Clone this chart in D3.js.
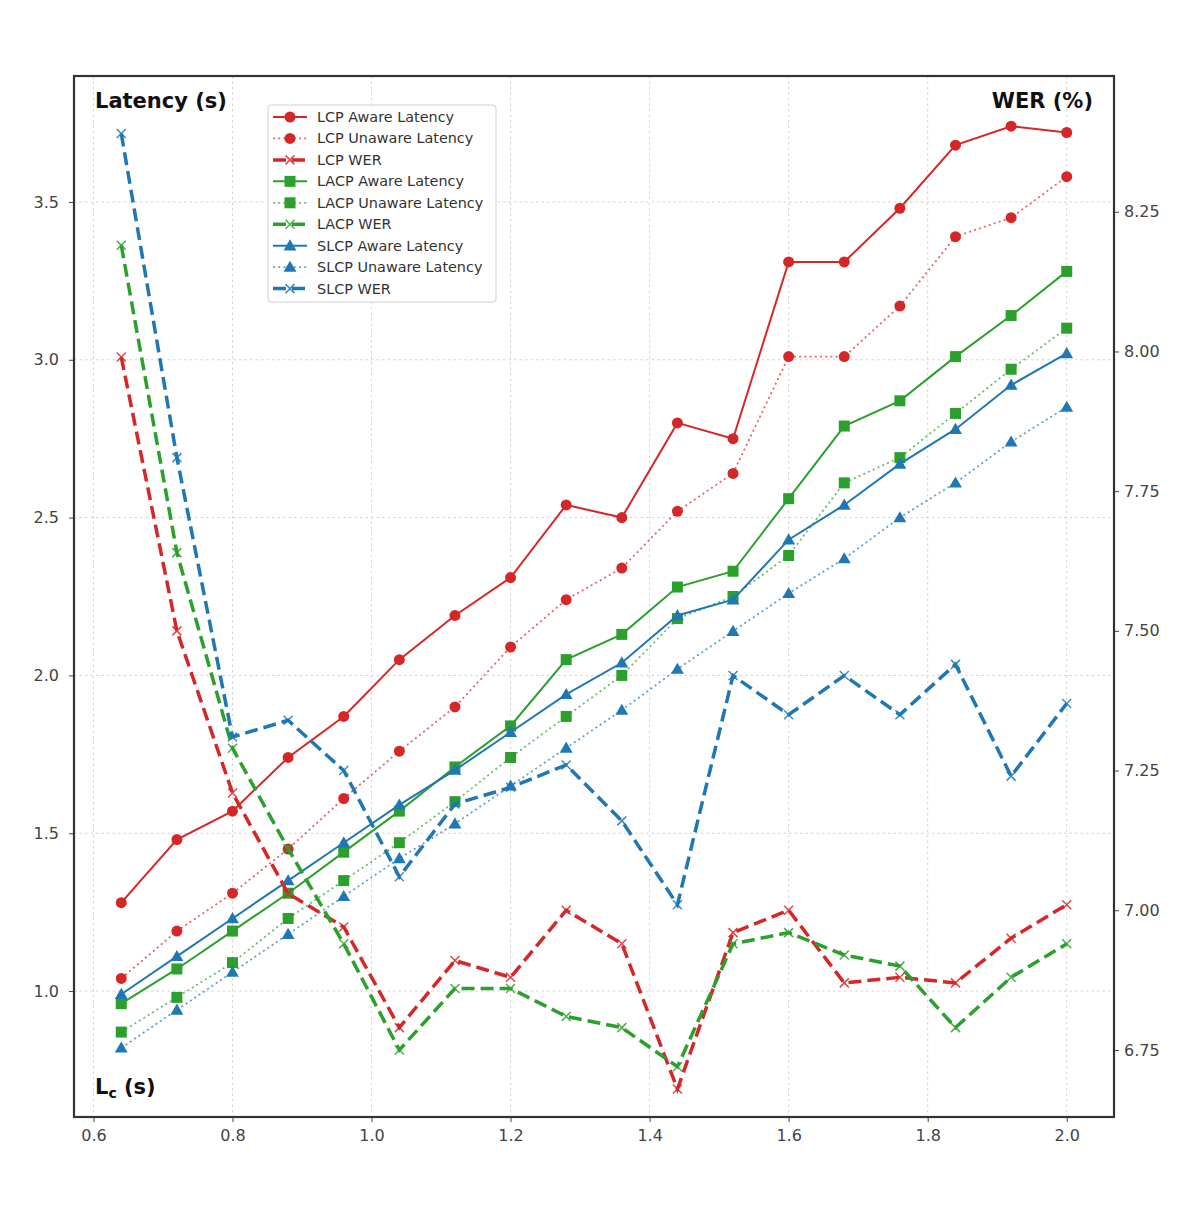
<!DOCTYPE html>
<html>
<head>
<meta charset="utf-8">
<script src="https://d3js.org/d3.v7.min.js"></script>
<style>
  body { margin: 0; background: #fff; }
  text { font-family: "DejaVu Sans", sans-serif; }
</style>
</head>
<body>
<svg id="chart" width="1200" height="1223"></svg>
<script>
// chunk lengths L_c (s)
const lc = [0.64, 0.72, 0.80, 0.88, 0.96, 1.04, 1.12, 1.20, 1.28, 1.36, 1.44, 1.52, 1.60, 1.68, 1.76, 1.84, 1.92, 2.00];

// latency (s), left axis
const lcpAware    = [1.28, 1.48, 1.57, 1.74, 1.87, 2.05, 2.19, 2.31, 2.54, 2.50, 2.80, 2.75, 3.31, 3.31, 3.48, 3.68, 3.74, 3.72];
const lcpUnaware  = [1.04, 1.19, 1.31, 1.45, 1.61, 1.76, 1.90, 2.09, 2.24, 2.34, 2.52, 2.64, 3.01, 3.01, 3.17, 3.39, 3.45, 3.58];
const lacpAware   = [0.96, 1.07, 1.19, 1.31, 1.44, 1.57, 1.71, 1.84, 2.05, 2.13, 2.28, 2.33, 2.56, 2.79, 2.87, 3.01, 3.14, 3.28];
const lacpUnaware = [0.87, 0.98, 1.09, 1.23, 1.35, 1.47, 1.60, 1.74, 1.87, 2.00, 2.18, 2.25, 2.38, 2.61, 2.69, 2.83, 2.97, 3.10];
const slcpAware   = [0.99, 1.11, 1.23, 1.35, 1.47, 1.59, 1.70, 1.82, 1.94, 2.04, 2.19, 2.24, 2.43, 2.54, 2.67, 2.78, 2.92, 3.02];
const slcpUnaware = [0.82, 0.94, 1.06, 1.18, 1.30, 1.42, 1.53, 1.65, 1.77, 1.89, 2.02, 2.14, 2.26, 2.37, 2.50, 2.61, 2.74, 2.85];

// WER (%), right axis
const lcpWer  = [7.99, 7.50, 7.21, 7.03, 6.97, 6.79, 6.91, 6.88, 7.00, 6.94, 6.68, 6.96, 7.00, 6.87, 6.88, 6.87, 6.95, 7.01];
const lacpWer = [8.19, 7.64, 7.29, 7.11, 6.94, 6.75, 6.86, 6.86, 6.81, 6.79, 6.72, 6.94, 6.96, 6.92, 6.90, 6.79, 6.88, 6.94];
const slcpWer = [8.39, 7.81, 7.31, 7.34, 7.25, 7.06, 7.19, 7.22, 7.26, 7.16, 7.01, 7.42, 7.35, 7.42, 7.35, 7.44, 7.24, 7.37];

// ticks
const xTicks = [0.6, 0.8, 1.0, 1.2, 1.4, 1.6, 1.8, 2.0];
const leftTicks = [1.0, 1.5, 2.0, 2.5, 3.0, 3.5];
const rightTicks = [6.75, 7.00, 7.25, 7.50, 7.75, 8.00, 8.25];

const red = "#d62728", green = "#2ca02c", blue = "#1f77b4";

//////////////////////////
// layout + scales
//////////////////////////
let plot = {left: 74, right: 1114, top: 76, bottom: 1117};

let svg = d3.select("#chart");

let x = d3.scaleLinear().domain([0.572, 2.068]).range([plot.left, plot.right]);
let yL = d3.scaleLinear().domain([0.601, 3.899]).range([plot.bottom, plot.top]);
let yR = d3.scaleLinear().domain([6.63, 8.493]).range([plot.bottom, plot.top]);

//series list (legend order)
let series = [
  {name: "LCP Aware Latency",    values: lcpAware,    color: red,   axis: "L", kind: "solid",  marker: "circle"},
  {name: "LCP Unaware Latency",  values: lcpUnaware,  color: red,   axis: "L", kind: "dotted", marker: "circle"},
  {name: "LCP WER",              values: lcpWer,      color: red,   axis: "R", kind: "dashed", marker: "x"},
  {name: "LACP Aware Latency",   values: lacpAware,   color: green, axis: "L", kind: "solid",  marker: "square"},
  {name: "LACP Unaware Latency", values: lacpUnaware, color: green, axis: "L", kind: "dotted", marker: "square"},
  {name: "LACP WER",             values: lacpWer,     color: green, axis: "R", kind: "dashed", marker: "x"},
  {name: "SLCP Aware Latency",   values: slcpAware,   color: blue,  axis: "L", kind: "solid",  marker: "triangle"},
  {name: "SLCP Unaware Latency", values: slcpUnaware, color: blue,  axis: "L", kind: "dotted", marker: "triangle"},
  {name: "SLCP WER",             values: slcpWer,     color: blue,  axis: "R", kind: "dashed", marker: "x"}
];

//line styles
function styleLine(sel, s) {
  sel.attr("fill", "none").attr("stroke", s.color);
  if (s.kind === "solid") {
    sel.attr("stroke-width", 2);
  } else if (s.kind === "dotted") {
    sel.attr("stroke-width", 1.8).attr("stroke-dasharray", "2,3.2").attr("stroke-opacity", 0.7);
  } else {
    sel.attr("stroke-width", 3.5).attr("stroke-dasharray", "13,6");
  }
}

//markers
function drawMarker(g, type, cx, cy, color) {
  if (type === "circle") {
    g.append("circle").attr("cx", cx).attr("cy", cy).attr("r", 5.5).attr("fill", color);
  } else if (type === "square") {
    g.append("rect").attr("x", cx - 5.5).attr("y", cy - 5.5)
      .attr("width", 11).attr("height", 11).attr("fill", color);
  } else if (type === "triangle") {
    g.append("path")
      .attr("d", d3.symbol(d3.symbolTriangle, 72)())
      .attr("transform", `translate(${cx},${cy + 1})`)
      .attr("fill", color);
  } else {
    let h = 4.5;
    g.append("path")
      .attr("d", `M${cx - h},${cy - h}L${cx + h},${cy + h}M${cx - h},${cy + h}L${cx + h},${cy - h}`)
      .attr("stroke", color).attr("stroke-width", 1.5).attr("stroke-opacity", 0.85).attr("fill", "none");
  }
}

//////////////////////////
// grid
//////////////////////////
let grid = svg.append("g");
grid.selectAll(".vg").data(xTicks).enter().append("line")
  .attr("x1", d => x(d)).attr("x2", d => x(d))
  .attr("y1", plot.top).attr("y2", plot.bottom);
grid.selectAll(".hg").data(leftTicks).enter().append("line")
  .attr("x1", plot.left).attr("x2", plot.right)
  .attr("y1", d => yL(d)).attr("y2", d => yL(d));
grid.selectAll("line")
  .attr("stroke", "#d4d4d4").attr("stroke-width", 1).attr("stroke-dasharray", "2.5,3");

//////////////////////////
// lines + markers (latency first, WER on top)
//////////////////////////
let order = series.filter(s => s.axis === "L").concat(series.filter(s => s.axis === "R"));
order.forEach(s => {
  let y = s.axis === "L" ? yL : yR;
  let pts = s.values.map((v, i) => [x(lc[i]), y(v)]);
  let g = svg.append("g");
  g.append("path").attr("d", d3.line()(pts)).call(styleLine, s);
  pts.forEach(p => drawMarker(g, s.marker, p[0], p[1], s.color));
});

//////////////////////////
// axes
//////////////////////////
let axisFont = g => {
  g.selectAll("text").attr("font-family", "DejaVu Sans").attr("font-size", 16).attr("fill", "#444");
  g.selectAll(".tick line").attr("stroke", "#444");
  g.select(".domain").remove();
};

svg.append("g")
  .attr("transform", `translate(0,${plot.bottom})`)
  .call(d3.axisBottom(x).tickValues(xTicks).tickFormat(d3.format(".1f")).tickSize(5).tickPadding(8))
  .call(axisFont);

svg.append("g")
  .attr("transform", `translate(${plot.left},0)`)
  .call(d3.axisLeft(yL).tickValues(leftTicks).tickFormat(d3.format(".1f")).tickSize(5).tickPadding(10))
  .call(axisFont);

svg.append("g")
  .attr("transform", `translate(${plot.right},0)`)
  .call(d3.axisRight(yR).tickValues(rightTicks).tickFormat(d3.format(".2f")).tickSize(5).tickPadding(5))
  .call(axisFont);

//frame
svg.append("rect")
  .attr("x", plot.left).attr("y", plot.top)
  .attr("width", plot.right - plot.left).attr("height", plot.bottom - plot.top)
  .attr("fill", "none").attr("stroke", "#333").attr("stroke-width", 2.2);

//////////////////////////
// labels
//////////////////////////
svg.append("text")
  .attr("x", 95).attr("y", 101).attr("dominant-baseline", "central")
  .attr("font-size", 21).attr("font-weight", "bold").attr("fill", "#111")
  .text("Latency (s)");

svg.append("text")
  .attr("x", 1093).attr("y", 101).attr("dominant-baseline", "central").attr("text-anchor", "end")
  .attr("font-size", 21).attr("font-weight", "bold").attr("fill", "#111")
  .text("WER (%)");

let lcLabel = svg.append("text")
  .attr("x", 95).attr("y", 1094)
  .attr("font-size", 21).attr("font-weight", "bold").attr("fill", "#111");
lcLabel.append("tspan").text("L");
lcLabel.append("tspan").attr("font-size", 14).attr("dy", 4).text("c");
lcLabel.append("tspan").attr("dy", -4).text(" (s)");

//////////////////////////
// legend
//////////////////////////
let legend = svg.append("g");
legend.append("rect")
  .attr("x", 268).attr("y", 105).attr("width", 228).attr("height", 197).attr("rx", 3)
  .attr("fill", "white").attr("fill-opacity", 0.85)
  .attr("stroke", "#d0d0d0").attr("stroke-width", 1);

series.forEach((s, i) => {
  let cy = 117 + i * 21.45;
  let item = legend.append("g");
  item.append("path").attr("d", `M273,${cy}L307,${cy}`).call(styleLine, s);
  drawMarker(item, s.marker, 290, cy, s.color);
  item.append("text")
    .attr("x", 317).attr("y", cy).attr("dominant-baseline", "central")
    .attr("font-size", 14.4).attr("fill", "#333")
    .text(s.name);
});
</script>
</body>
</html>
